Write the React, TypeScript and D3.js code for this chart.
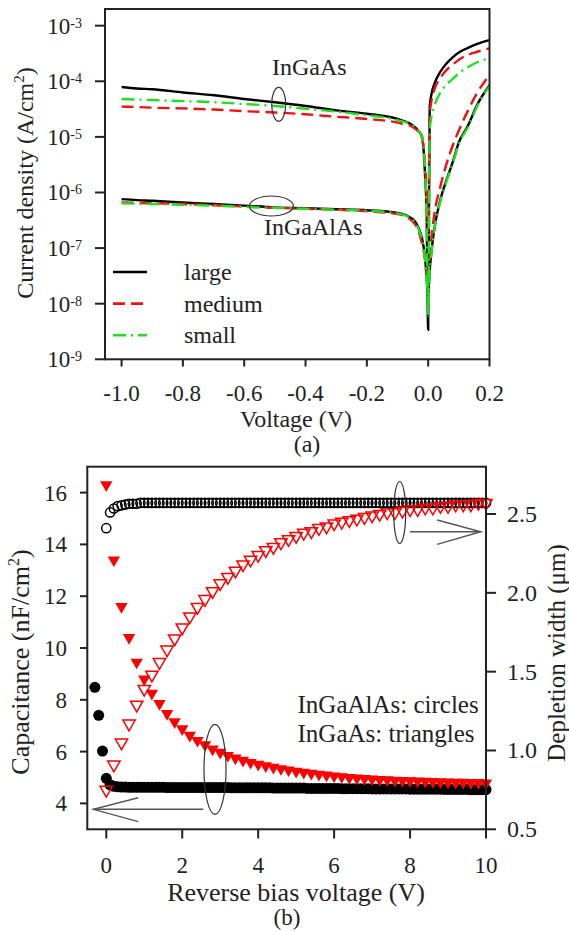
import React from "react";
import * as d3 from "d3";

const SERIF = "'Liberation Serif', 'Times New Roman', Times, serif";

// ---------- (a) J–V data ----------
const VOLTAGE = [-1.0, -0.95, -0.9, -0.8, -0.7, -0.6, -0.5, -0.4, -0.3, -0.2, -0.1, -0.05, -0.03, -0.02, -0.01, -0.005, 0, 0.005, 0.01, 0.02, 0.04, 0.06, 0.08, 0.1, 0.13, 0.16, 0.2];

const INGAAS_LARGE = [7.9e-5, 7.4e-5, 7.2e-5, 6.3e-5, 5.6e-5, 4.8e-5, 4.2e-5, 3.6e-5, 3.0e-5, 2.6e-5, 2.1e-5, 1.6e-5, 1.25e-5, 1.0e-5, 2.0e-6, 4.0e-7, 3.4e-9, 3.5e-5, 5.6e-5, 8.9e-5, 1.5e-4, 2.1e-4, 2.7e-4, 3.3e-4, 4.0e-4, 4.7e-4, 5.5e-4];
const INGAAS_MEDIUM = [3.5e-5, 3.45e-5, 3.35e-5, 3.25e-5, 3.1e-5, 2.9e-5, 2.75e-5, 2.55e-5, 2.3e-5, 2.1e-5, 1.8e-5, 1.5e-5, 1.2e-5, 9.5e-6, 3.0e-6, 9e-7, 2e-7, 2.5e-5, 4.2e-5, 7.0e-5, 1.15e-4, 1.6e-4, 2.0e-4, 2.45e-4, 3.0e-4, 3.4e-4, 3.9e-4];
const INGAAS_SMALL = [4.8e-5, 4.7e-5, 4.6e-5, 4.4e-5, 4.2e-5, 3.9e-5, 3.6e-5, 3.2e-5, 2.85e-5, 2.45e-5, 2.0e-5, 1.6e-5, 1.25e-5, 1.0e-5, 2.5e-6, 3e-7, 6e-9, 1.3e-5, 2.2e-5, 3.6e-5, 6.3e-5, 8.7e-5, 1.1e-4, 1.4e-4, 1.8e-4, 2.2e-4, 2.6e-4];
const INGAALAS_LARGE = [7.6e-7, 7.3e-7, 7.1e-7, 6.6e-7, 6.2e-7, 5.8e-7, 5.4e-7, 5.2e-7, 5.0e-7, 4.8e-7, 4.3e-7, 3.3e-7, 2.2e-7, 1.5e-7, 6.5e-8, 3.0e-8, 1.5e-8, 4e-8, 8e-8, 2.2e-7, 7.5e-7, 1.7e-6, 3.5e-6, 8e-6, 1.6e-5, 3.8e-5, 8.5e-5];
const INGAALAS_MEDIUM = [6.6e-7, 6.5e-7, 6.4e-7, 6.2e-7, 5.9e-7, 5.6e-7, 5.3e-7, 5.1e-7, 4.9e-7, 4.6e-7, 4.1e-7, 3.0e-7, 1.9e-7, 1.2e-7, 6e-8, 3.5e-8, 2.5e-8, 6e-8, 1.4e-7, 4e-7, 1.3e-6, 3.3e-6, 7e-6, 1.3e-5, 3e-5, 6.2e-5, 1.3e-4];
const INGAALAS_SMALL = [6.4e-7, 6.3e-7, 6.2e-7, 6.0e-7, 5.8e-7, 5.5e-7, 5.3e-7, 5.1e-7, 4.9e-7, 4.7e-7, 4.2e-7, 3.2e-7, 2.1e-7, 1.4e-7, 6e-8, 2.5e-8, 1.0e-8, 3.5e-8, 7.5e-8, 2.1e-7, 7e-7, 1.6e-6, 3.3e-6, 7.5e-6, 1.5e-5, 3.6e-5, 8.2e-5];

const SIZE_NAMES = ["large", "medium", "small"];
const SIZE_COLORS = ["#000000", "#ee1111", "#22dd22"];
const SIZE_DASH = ["none", "12 6", "13 5 2 5"];

const TOP_X_TICKS = [-1.0, -0.8, -0.6, -0.4, -0.2, 0.0, 0.2];
const TOP_X_LABELS = ["-1.0", "-0.8", "-0.6", "-0.4", "-0.2", "0.0", "0.2"];
const TOP_Y_EXP = [-3, -4, -5, -6, -7, -8, -9];

// ---------- (b) C–V data ----------
const CIRC_V = [
  -0.3, -0.2, -0.1, 0.0,
  0.1, 0.2, 0.3, 0.4, 0.5, 0.6, 0.7, 0.8, 0.9, 1.0,
  1.1, 1.2, 1.3, 1.4, 1.5, 1.6, 1.7, 1.8, 1.9, 2.0,
  2.1, 2.2, 2.3, 2.4, 2.5, 2.6, 2.7, 2.8, 2.9, 3.0,
  3.1, 3.2, 3.3, 3.4, 3.5, 3.6, 3.7, 3.8, 3.9, 4.0,
  4.1, 4.2, 4.3, 4.4, 4.5, 4.6, 4.7, 4.8, 4.9, 5.0,
  5.1, 5.2, 5.3, 5.4, 5.5, 5.6, 5.7, 5.8, 5.9, 6.0,
  6.1, 6.2, 6.3, 6.4, 6.5, 6.6, 6.7, 6.8, 6.9, 7.0,
  7.1, 7.2, 7.3, 7.4, 7.5, 7.6, 7.7, 7.8, 7.9, 8.0,
  8.1, 8.2, 8.3, 8.4, 8.5, 8.6, 8.7, 8.8, 8.9, 9.0,
  9.1, 9.2, 9.3, 9.4, 9.5, 9.6, 9.7, 9.8, 9.9, 10.0,
];
// InGaAlAs capacitance (filled circles, left axis)
const CAP_INGAALAS = [
  8.48, 7.40, 6.02, 4.97,
  4.72, 4.66, 4.64, 4.63, 4.63, 4.62, 4.62, 4.62, 4.62, 4.62,
  4.62, 4.62, 4.62, 4.62, 4.62, 4.61, 4.61, 4.61, 4.61, 4.61,
  4.61, 4.61, 4.61, 4.61, 4.61, 4.61, 4.61, 4.61, 4.61, 4.61,
  4.61, 4.61, 4.60, 4.60, 4.60, 4.60, 4.60, 4.60, 4.60, 4.60,
  4.60, 4.60, 4.60, 4.59, 4.59, 4.59, 4.59, 4.59, 4.59, 4.59,
  4.59, 4.59, 4.58, 4.58, 4.58, 4.58, 4.58, 4.58, 4.58, 4.58,
  4.58, 4.57, 4.57, 4.57, 4.57, 4.57, 4.57, 4.57, 4.57, 4.56,
  4.56, 4.56, 4.56, 4.56, 4.56, 4.56, 4.56, 4.56, 4.56, 4.55,
  4.55, 4.55, 4.55, 4.55, 4.55, 4.55, 4.55, 4.55, 4.54, 4.54,
  4.54, 4.54, 4.54, 4.54, 4.54, 4.53, 4.53, 4.53, 4.53, 4.53,
];
// InGaAlAs depletion width (open circles, right axis), from 0 V
const DEP_INGAALAS = [
  null, null, null, 2.41,
  2.51, 2.535, 2.55, 2.555, 2.56, 2.565, 2.565, 2.565, 2.57, 2.57,
  2.57, 2.57, 2.57, 2.57, 2.57, 2.57, 2.57, 2.57, 2.57, 2.57,
  2.57, 2.57, 2.57, 2.57, 2.57, 2.57, 2.57, 2.57, 2.57, 2.57,
  2.57, 2.57, 2.57, 2.57, 2.57, 2.57, 2.57, 2.57, 2.57, 2.57,
  2.57, 2.57, 2.57, 2.57, 2.57, 2.57, 2.57, 2.57, 2.57, 2.57,
  2.57, 2.57, 2.57, 2.57, 2.57, 2.57, 2.57, 2.57, 2.57, 2.57,
  2.57, 2.57, 2.57, 2.57, 2.57, 2.57, 2.57, 2.57, 2.57, 2.57,
  2.57, 2.57, 2.57, 2.57, 2.57, 2.57, 2.57, 2.57, 2.57, 2.57,
  2.57, 2.57, 2.57, 2.57, 2.57, 2.57, 2.57, 2.57, 2.57, 2.57,
  2.57, 2.57, 2.57, 2.57, 2.57, 2.57, 2.57, 2.57, 2.57, 2.57,
];

const TRI_V = [0, 0.2, 0.4, 0.6, 0.8, 1.0, 1.2, 1.4, 1.6, 1.8, 2.0, 2.2, 2.4, 2.6, 2.8, 3.0, 3.2, 3.4, 3.6, 3.8, 4.0, 4.2, 4.4, 4.6, 4.8, 5.0, 5.2, 5.4, 5.6, 5.8, 6.0, 6.2, 6.4, 6.6, 6.8, 7.0, 7.2, 7.4, 7.6, 7.8, 8.0, 8.2, 8.4, 8.6, 8.8, 9.0, 9.2, 9.4, 9.6, 9.8, 10.0];
// InGaAs capacitance (filled triangles, left axis)
const CAP_INGAAS = [16.3, 13.4, 11.6, 10.4, 9.45, 8.8, 8.25, 7.85, 7.47, 7.15, 6.88, 6.63, 6.43, 6.26, 6.1, 5.97, 5.85, 5.75, 5.66, 5.58, 5.51, 5.45, 5.39, 5.34, 5.29, 5.24, 5.2, 5.16, 5.12, 5.09, 5.06, 5.03, 5.0, 4.98, 4.96, 4.94, 4.92, 4.91, 4.89, 4.88, 4.87, 4.86, 4.85, 4.84, 4.83, 4.82, 4.81, 4.81, 4.8, 4.8, 4.79];
// InGaAs depletion width (open triangles, right axis)
const DEP_INGAAS = [0.75, 0.91, 1.05, 1.17, 1.29, 1.39, 1.48, 1.56, 1.64, 1.71, 1.78, 1.85, 1.91, 1.96, 2.01, 2.06, 2.10, 2.14, 2.18, 2.21, 2.24, 2.27, 2.29, 2.32, 2.34, 2.36, 2.38, 2.39, 2.41, 2.42, 2.44, 2.45, 2.46, 2.47, 2.48, 2.49, 2.50, 2.51, 2.51, 2.52, 2.53, 2.53, 2.54, 2.54, 2.55, 2.55, 2.56, 2.56, 2.56, 2.57, 2.57];

const BOT_X_TICKS = [0, 2, 4, 6, 8, 10];
const CAP_TICKS = [4, 6, 8, 10, 12, 14, 16];
const DEP_TICKS = [0.5, 1.0, 1.5, 2.0, 2.5];

export default function App() {
  // ---- scales (a)
  const xTop = d3.scaleLinear().domain([-1.054, 0.2]).range([105, 489.5]);
  const yTop = d3.scaleLog().domain([1e-9, Math.pow(10, -2.7)]).range([359.3, 9]);
  const lineTop = d3
    .line<[number, number]>()
    .x((d) => xTop(d[0]))
    .y((d) => yTop(d[1]))
    .curve(d3.curveMonotoneX);

  const topSeries = [
    { data: INGAAS_LARGE, k: 0 },
    { data: INGAALAS_LARGE, k: 0 },
    { data: INGAAS_MEDIUM, k: 1 },
    { data: INGAALAS_MEDIUM, k: 1 },
    { data: INGAAS_SMALL, k: 2 },
    { data: INGAALAS_SMALL, k: 2 },
  ];

  // ---- scales (b)
  const xBot = d3.scaleLinear().domain([-0.5, 10]).range([87.3, 486]);
  const yCap = d3.scaleLinear().domain([3, 17]).range([829.3, 466.7]);
  const yDep = d3.scaleLinear().domain([0.5, 2.8]).range([829.3, 466.7]);
  const triPath = d3.symbol(d3.symbolTriangle, 66)() as string;

  const axisColor = "#222";

  return (
    <svg
      width={569}
      height={932}
      style={{ position: "absolute", left: 0, top: 0, background: "#fff" }}
      fontFamily={SERIF}
    >
      {/* ================= (a) ================= */}
      <g>
        {topSeries.map((s, i) => (
          <path
            key={i}
            d={lineTop(VOLTAGE.map((v, j) => [v, s.data[j]] as [number, number])) as string}
            fill="none"
            stroke={SIZE_COLORS[s.k]}
            strokeWidth={2.4}
            strokeDasharray={SIZE_DASH[s.k]}
          />
        ))}
        {/* frame */}
        <rect x={105} y={9} width={384.5} height={350.3} fill="none" stroke={axisColor} strokeWidth={2} />
        {/* y ticks */}
        {TOP_Y_EXP.map((e) => (
          <g key={e}>
            <line x1={95} x2={105} y1={yTop(Math.pow(10, e))} y2={yTop(Math.pow(10, e))} stroke={axisColor} strokeWidth={2} />
            <text x={82} y={yTop(Math.pow(10, e)) + 8} textAnchor="end" fontSize={23} fill="#222">
              10
              <tspan dy={-6} fontSize={14}>{String(e)}</tspan>
            </text>
          </g>
        ))}
        {/* x ticks */}
        {TOP_X_TICKS.map((t, i) => (
          <g key={t}>
            <line x1={xTop(t)} x2={xTop(t)} y1={359.3} y2={366.5} stroke={axisColor} strokeWidth={2} />
            <text x={xTop(t)} y={401} textAnchor="middle" fontSize={23} fill="#222">
              {TOP_X_LABELS[i]}
            </text>
          </g>
        ))}
        <text x={296} y={427} textAnchor="middle" fontSize={24} fill="#222">Voltage (V)</text>
        <text transform="translate(33,183) rotate(-90)" textAnchor="middle" fontSize={24} fill="#222">
          Current density (A/cm
          <tspan dy={-9} fontSize={15}>2</tspan>
          <tspan dy={9}>)</tspan>
        </text>
        <text x={307} y={452} textAnchor="middle" fontSize={24} fill="#222">(a)</text>

        {/* legend */}
        {SIZE_NAMES.map((n, i) => {
          const yy = 272 + i * 31.6;
          return (
            <g key={n}>
              <line x1={113} x2={147} y1={yy} y2={yy} stroke={SIZE_COLORS[i]} strokeWidth={2.6} strokeDasharray={SIZE_DASH[i]} />
              <text x={184} y={yy + 8} fontSize={24} fill="#222">{n}</text>
            </g>
          );
        })}

        {/* annotations */}
        <text x={272} y={75} fontSize={24} fill="#222">InGaAs</text>
        <ellipse cx={278.7} cy={104.3} rx={7} ry={17} fill="none" stroke="#333" strokeWidth={1.2} />
        <text x={264} y={235} fontSize={24} fill="#222">InGaAlAs</text>
        <ellipse cx={271.4} cy={206} rx={22} ry={10} fill="none" stroke="#333" strokeWidth={1.2} />
      </g>

      {/* ================= (b) ================= */}
      <g>
        {/* filled circles: InGaAlAs capacitance */}
        {CIRC_V.map((v, i) => (
          <circle key={"fc" + i} cx={xBot(v)} cy={yCap(CAP_INGAALAS[i])} r={5.5} fill="#000" />
        ))}
        {/* open circles: InGaAlAs depletion width */}
        {CIRC_V.map((v, i) =>
          DEP_INGAALAS[i] == null ? null : (
            <circle key={"oc" + i} cx={xBot(v)} cy={yDep(DEP_INGAALAS[i] as number)} r={4.6} fill="none" stroke="#000" strokeWidth={1.5} />
          )
        )}
        {/* filled triangles: InGaAs capacitance */}
        {TRI_V.map((v, i) => (
          <path key={"ft" + i} d={triPath} transform={`translate(${xBot(v)},${yCap(CAP_INGAAS[i])}) rotate(180)`} fill="#ff0000" />
        ))}
        {/* open triangles: InGaAs depletion width */}
        {TRI_V.map((v, i) => (
          <path key={"ot" + i} d={triPath} transform={`translate(${xBot(v)},${yDep(DEP_INGAAS[i])}) rotate(180)`} fill="none" stroke="#ff0000" strokeWidth={1.5} />
        ))}

        {/* frame */}
        <rect x={87.3} y={466.7} width={398.7} height={362.6} fill="none" stroke={axisColor} strokeWidth={2} />
        {CAP_TICKS.map((t) => (
          <g key={"c" + t}>
            <line x1={80} x2={87.3} y1={yCap(t)} y2={yCap(t)} stroke={axisColor} strokeWidth={2} />
            <text x={67} y={yCap(t) + 8} textAnchor="end" fontSize={23} fill="#222">{t}</text>
          </g>
        ))}
        {DEP_TICKS.map((t) => (
          <g key={"d" + t}>
            <line x1={486} x2={496} y1={yDep(t)} y2={yDep(t)} stroke={axisColor} strokeWidth={2} />
            <text x={507} y={yDep(t) + 8} fontSize={24} fill="#222">{t.toFixed(1)}</text>
          </g>
        ))}
        {BOT_X_TICKS.map((t) => (
          <g key={"x" + t}>
            <line x1={xBot(t)} x2={xBot(t)} y1={829.3} y2={838.5} stroke={axisColor} strokeWidth={2} />
            <text x={xBot(t)} y={873} textAnchor="middle" fontSize={23} fill="#222">{t}</text>
          </g>
        ))}
        <text x={296} y={901} textAnchor="middle" fontSize={26} fill="#222">Reverse bias voltage (V)</text>
        <text x={287} y={925} textAnchor="middle" fontSize={23} fill="#222">(b)</text>
        <text transform="translate(29,662) rotate(-90)" textAnchor="middle" fontSize={26} fill="#222">
          Capacitance (nF/cm
          <tspan dy={-10} fontSize={16}>2</tspan>
          <tspan dy={10}>)</tspan>
        </text>
        <text transform="translate(565,653) rotate(-90)" textAnchor="middle" fontSize={25} fill="#222">
          Depletion width (μm)
        </text>

        <text x={297.5} y={713} fontSize={25} fill="#222">InGaAlAs: circles</text>
        <text x={297.5} y={741.7} fontSize={25} fill="#222">InGaAs: triangles</text>

        {/* ellipses and arrows */}
        <ellipse cx={399.7} cy={512.5} rx={6} ry={31} fill="none" stroke="#333" strokeWidth={1.2} />
        <line x1={410} x2={480.8} y1={531.7} y2={531.7} stroke="#555" strokeWidth={1.4} />
        <polyline points="437.2,520 480.8,531.7 437.2,544.3" fill="none" stroke="#555" strokeWidth={1.4} />
        <ellipse cx={215} cy={769.3} rx={11} ry={45} fill="none" stroke="#333" strokeWidth={1.2} />
        <line x1={203.3} x2={93.3} y1={809.3} y2={809.3} stroke="#555" strokeWidth={1.4} />
        <polyline points="138.3,797.7 93.3,809.3 138.3,821.7" fill="none" stroke="#555" strokeWidth={1.4} />
      </g>
    </svg>
  );
}
